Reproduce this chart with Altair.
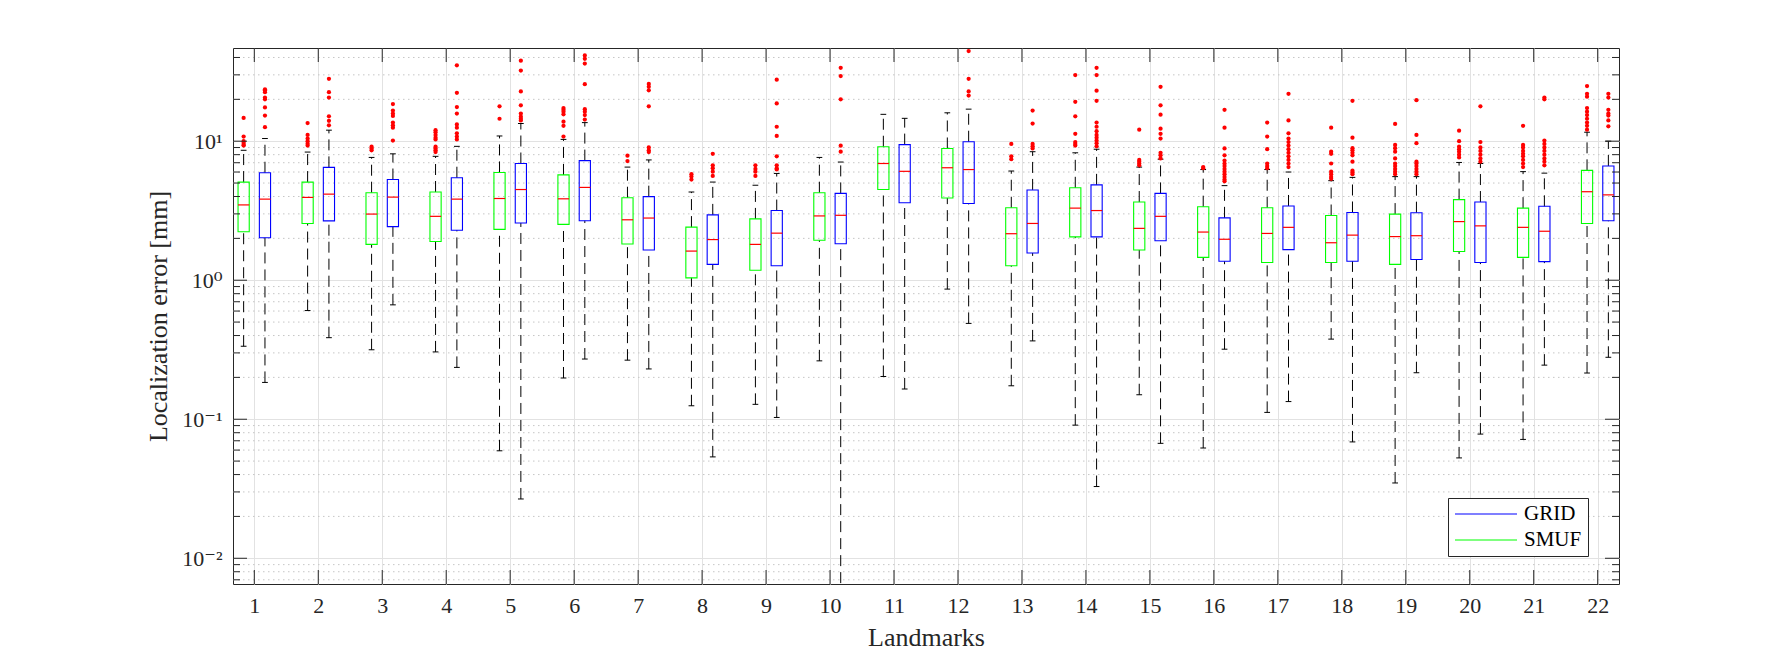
import altair as alt
import pandas as pd

# ---------------- data ----------------
landmarks = list(range(1, 23))

smuf_lo = [0.335, 0.605, 0.316, 0.305, 0.0593, 0.198, 0.266, 0.125, 0.128, 0.263, 0.203,
           0.863, 0.174, 0.0907, 0.150, 0.0621, 0.112, 0.377, 0.0348, 0.0527, 0.0716, 0.215]
smuf_q1 = [2.23, 2.56, 1.81, 1.90, 2.32, 2.52, 1.82, 1.04, 1.18, 1.94, 4.49,
           3.90, 1.27, 2.05, 1.65, 1.46, 1.34, 1.34, 1.30, 1.61, 1.46, 2.56]
smuf_med = [3.48, 3.94, 2.99, 2.88, 3.87, 3.85, 2.72, 1.62, 1.81, 2.90, 6.91,
            6.44, 2.16, 3.30, 2.36, 2.22, 2.17, 1.86, 2.06, 2.64, 2.40, 4.33]
smuf_q3 = [5.08, 5.08, 4.26, 4.31, 5.96, 5.72, 3.92, 2.41, 2.76, 4.26, 9.12,
           8.86, 3.32, 4.62, 3.65, 3.38, 3.32, 2.92, 2.99, 3.80, 3.30, 6.17]
smuf_hi = [8.6, 8.35, 7.64, 7.78, 10.9, 10.3, 6.51, 4.31, 4.82, 7.64, 15.6,
           16.0, 6.10, 8.25, 6.51, 6.25, 6.25, 5.20, 5.56, 7.03, 6.04, 11.6]
smuf_out = [
    [14.7, 10.8, 10.0, 9.7, 9.4, 9.3],
    [13.5, 11.1, 10.45, 10.0, 9.6, 9.3],
    [9.12, 8.86, 8.6],
    [12.0, 11.6, 11.1, 10.6, 10.3, 9.12, 8.86, 8.6, 8.35],
    [17.8, 14.5],
    [17.3, 16.8, 16.3, 15.6, 13.8, 12.9, 10.8],
    [7.87, 7.2],
    [5.79, 5.56, 5.30],
    [6.71, 6.32, 6.04, 5.62],
    [],
    [],
    [],
    [9.56, 7.78, 7.42],
    [29.9, 19.2, 15.1, 11.3, 9.85, 9.56, 9.3],
    [12.1, 7.33, 7.12, 6.91, 6.71],
    [6.51, 6.40],
    [13.6, 10.8, 8.75, 6.91, 6.63, 6.40],
    [12.5, 8.40, 8.11, 6.91, 6.04, 5.79, 5.53, 5.36],
    [13.3, 9.4, 8.91, 8.4, 7.51, 6.91, 6.63, 6.32, 6.04, 5.79],
    [11.9, 10.0, 9.12, 8.75, 8.40, 8.0, 7.64],
    [12.9, 9.4, 9.02, 8.5, 8.11, 7.78, 7.33, 6.91, 6.51],
    [24.9, 21.9, 20.9, 17.3, 16.3, 15.4, 14.5, 13.6, 12.9, 12.1],
]

grid_lo = [0.184, 0.386, 0.665, 0.236, 0.0267, 0.271, 0.230, 0.0536, 0.103, 0.005, 0.165,
           0.489, 0.366, 0.0328, 0.0671, 0.319, 0.134, 0.0687, 0.216, 0.0782, 0.245, 0.279]
grid_q1 = [2.02, 2.67, 2.43, 2.29, 2.58, 2.68, 1.65, 1.30, 1.27, 1.83, 3.61,
           3.56, 1.57, 2.05, 1.92, 1.37, 1.66, 1.37, 1.41, 1.34, 1.36, 2.68]
grid_med = [3.83, 4.16, 3.96, 3.83, 4.49, 4.65, 2.80, 1.96, 2.18, 2.93, 6.07,
            6.25, 2.56, 3.17, 2.88, 1.97, 2.40, 2.11, 2.09, 2.46, 2.25, 4.11]
grid_q3 = [5.93, 6.48, 5.30, 5.46, 6.91, 7.25, 3.99, 2.95, 3.17, 4.21, 9.45,
           9.91, 4.46, 4.85, 4.21, 2.81, 3.42, 3.07, 3.06, 3.65, 3.40, 6.63]
grid_hi = [10.45, 12.0, 8.11, 9.18, 13.4, 13.6, 7.33, 5.08, 5.86, 7.08, 14.6,
           17.0, 8.40, 8.75, 7.42, 4.79, 6.0, 5.49, 5.56, 6.91, 5.89, 10.0]
grid_out = [
    [23.6, 23.2, 22.5, 20.6, 20.0, 17.5, 15.3, 12.6],
    [28.1, 22.5, 20.6, 15.1, 14.0, 13.0],
    [18.5, 16.6, 15.8, 15.2, 13.6, 13.0, 12.5, 10.1],
    [35.1, 22.3, 17.6, 15.8, 13.2, 12.5, 11.4, 10.8, 10.3],
    [37.9, 32.2, 22.8, 18.1, 15.8, 15.0, 14.5, 14.1],
    [41.4, 39.1, 36.2, 25.7, 17.0, 16.3, 15.4, 14.3],
    [25.8, 24.6, 23.2, 17.8, 9.02, 8.6, 8.35],
    [8.11, 6.71, 6.40, 6.04, 5.62],
    [27.7, 18.7, 12.7, 10.9, 7.78, 6.71, 6.40, 6.26],
    [33.7, 29.4, 20.0, 9.29, 8.40],
    [],
    [44.5, 28.1, 22.8, 21.3],
    [16.6, 13.4, 9.56, 9.18, 8.86],
    [33.7, 29.9, 23.1, 19.5, 13.6, 12.7, 11.8, 11.1, 10.6, 10.1, 9.68, 9.18],
    [24.6, 18.1, 15.5, 12.3, 11.3, 10.45, 8.25, 7.92, 7.51],
    [16.8, 12.5, 8.86, 7.92, 7.25, 6.91, 6.63, 6.32, 6.04, 5.79, 5.53, 5.30, 5.14],
    [21.9, 14.1, 11.4, 10.45, 9.85, 9.3, 8.75, 8.25, 7.78, 7.33, 6.91, 6.51],
    [19.5, 10.6, 8.91, 8.6, 8.25, 7.92, 7.12, 6.14, 5.96, 5.79],
    [19.7, 11.1, 9.68, 7.12, 6.91, 6.63, 6.32, 6.04, 5.79],
    [17.8, 9.85, 9.02, 8.5, 8.0, 7.51, 7.12],
    [20.6, 20.0, 10.1, 9.56, 9.02, 8.5, 8.0, 7.51, 7.12, 6.71],
    [21.9, 20.6, 16.8, 15.8, 15.3, 14.1, 12.8],
]

major_y = [0.01, 0.1, 1, 10]
minor_y = [0.007, 0.008, 0.009,
           0.02, 0.03, 0.04, 0.05, 0.06, 0.07, 0.08, 0.09,
           0.2, 0.3, 0.4, 0.5, 0.6, 0.7, 0.8, 0.9,
           2, 3, 4, 5, 6, 7, 8, 9,
           20, 30, 40]

# ---------------- layout / style ----------------
W, H = 1386, 536
FONT = "Liberation Serif, DejaVu Serif, serif"
AX = "#262626"
OFFSET = {"SMUF": -1 / 6, "GRID": 1 / 6}
HALF_BOX = 0.0875
HALF_CAP = 0.045

rows, outs = [], []
for name, lo, q1, med, q3, hi, out in [
    ("SMUF", smuf_lo, smuf_q1, smuf_med, smuf_q3, smuf_hi, smuf_out),
    ("GRID", grid_lo, grid_q1, grid_med, grid_q3, grid_hi, grid_out),
]:
    for i, lm in enumerate(landmarks):
        pos = lm + OFFSET[name]
        rows.append(dict(lm=lm, group=name, pos=pos,
                         left=pos - HALF_BOX, right=pos + HALF_BOX,
                         capl=pos - HALF_CAP, capr=pos + HALF_CAP,
                         lo=lo[i], q1=q1[i], med=med[i], q3=q3[i], hi=hi[i]))
        for v in out[i]:
            outs.append(dict(lm=lm, group=name, pos=pos, val=v))

box_df = pd.DataFrame(rows)
out_df = pd.DataFrame(outs)
lm_df = pd.DataFrame({"lm": landmarks})
major_df = pd.DataFrame({"v": major_y})
minor_df = pd.DataFrame({"v": minor_y})

xscale = alt.Scale(domain=[0.667, 22.333], nice=False, zero=False)
yscale = alt.Scale(type="log", domain=[0.00653, 46.8], nice=False)

label_expr = ("datum.value > 5 ? '10¹' : datum.value > 0.5 ? '10⁰' : "
              "datum.value > 0.05 ? '10⁻¹' : '10⁻²'")

y_axis = alt.Axis(values=major_y, grid=True, gridColor="#e2e2e2", gridWidth=1,
                  ticks=False, tickSize=0, domain=False, labelExpr=label_expr,
                  labelFont=FONT, labelFontSize=22, labelColor=AX, labelPadding=11,
                  title="Localization error [mm]", titleFont=FONT, titleFontSize=26,
                  titleFontWeight="normal", titleColor=AX, titlePadding=10)
x_axis = alt.Axis(values=landmarks, grid=True, gridColor="#e2e2e2", gridWidth=1,
                  ticks=False, tickSize=0, domain=False, format="d",
                  labelFont=FONT, labelFontSize=22, labelColor=AX, labelPadding=11,
                  title="Landmarks", titleFont=FONT, titleFontSize=26,
                  titleFontWeight="normal", titleColor=AX, titlePadding=8)

# axis carrier layer (invisible) holding both axes
axes_layer = alt.Chart(box_df).mark_point(opacity=0).encode(
    x=alt.X("pos:Q", scale=xscale, axis=x_axis),
    y=alt.Y("med:Q", scale=yscale, axis=y_axis),
)

minor_grid = alt.Chart(minor_df).mark_rule(
    color="#c6c6c6", strokeDash=[1.5, 3.5], strokeWidth=1
).encode(
    y=alt.Y("v:Q", scale=yscale),
    x=alt.value(0), x2=alt.value(W),
)

whisk_lo = alt.Chart(box_df).mark_rule(color="black", strokeDash=[11, 6], strokeWidth=1, clip=True).encode(
    x=alt.X("pos:Q", scale=xscale),
    y=alt.Y("lo:Q", scale=yscale), y2="q1:Q")
whisk_hi = alt.Chart(box_df).mark_rule(color="black", strokeDash=[11, 6], strokeWidth=1, clip=True).encode(
    x=alt.X("pos:Q", scale=xscale),
    y=alt.Y("q3:Q", scale=yscale), y2="hi:Q")
cap_lo = alt.Chart(box_df).mark_rule(color="black", strokeWidth=1, clip=True).encode(
    x=alt.X("capl:Q", scale=xscale), x2="capr:Q",
    y=alt.Y("lo:Q", scale=yscale))
cap_hi = alt.Chart(box_df).mark_rule(color="black", strokeWidth=1, clip=True).encode(
    x=alt.X("capl:Q", scale=xscale), x2="capr:Q",
    y=alt.Y("hi:Q", scale=yscale))

boxes = alt.Chart(box_df).mark_rect(fillOpacity=0, strokeWidth=1.1).encode(
    x=alt.X("left:Q", scale=xscale), x2="right:Q",
    y=alt.Y("q1:Q", scale=yscale), y2="q3:Q",
    stroke=alt.Stroke("group:N",
                      scale=alt.Scale(domain=["GRID", "SMUF"], range=["#0000ff", "#00ff00"]),
                      legend=alt.Legend(title=None, orient="none", legendX=1215, legendY=450,
                                        fillColor="white", strokeColor=AX, padding=6,
                                        symbolType="stroke", symbolSize=3844,
                                        symbolStrokeWidth=1.2, clipHeight=20, rowPadding=5,
                                        labelFont=FONT, labelFontSize=21, labelColor="black",
                                        labelOffset=6)),
)

medians = alt.Chart(box_df).mark_rule(color="#ff0000", strokeWidth=1.2).encode(
    x=alt.X("left:Q", scale=xscale), x2="right:Q",
    y=alt.Y("med:Q", scale=yscale))

outliers = alt.Chart(out_df).mark_circle(color="#ff0000", size=18, opacity=1, clip=True).encode(
    x=alt.X("pos:Q", scale=xscale),
    y=alt.Y("val:Q", scale=yscale))

# inward ticks on all four sides (MATLAB box style)
tick_bottom = alt.Chart(lm_df).mark_rule(color=AX).encode(
    x=alt.X("lm:Q", scale=xscale), y=alt.value(H), y2=alt.value(H - 14))
tick_top = alt.Chart(lm_df).mark_rule(color=AX).encode(
    x=alt.X("lm:Q", scale=xscale), y=alt.value(0), y2=alt.value(14))
ymaj_l = alt.Chart(major_df).mark_rule(color=AX).encode(
    y=alt.Y("v:Q", scale=yscale), x=alt.value(0), x2=alt.value(14))
ymaj_r = alt.Chart(major_df).mark_rule(color=AX).encode(
    y=alt.Y("v:Q", scale=yscale), x=alt.value(W), x2=alt.value(W - 14))
ymin_l = alt.Chart(minor_df).mark_rule(color=AX).encode(
    y=alt.Y("v:Q", scale=yscale), x=alt.value(0), x2=alt.value(7))
ymin_r = alt.Chart(minor_df).mark_rule(color=AX).encode(
    y=alt.Y("v:Q", scale=yscale), x=alt.value(W), x2=alt.value(W - 7))

chart = alt.layer(
    axes_layer, minor_grid, whisk_lo, whisk_hi, cap_lo, cap_hi, boxes, medians, outliers,
    tick_bottom, tick_top, ymaj_l, ymaj_r, ymin_l, ymin_r,
).properties(
    width=W, height=H,
    autosize=alt.AutoSizeParams(type="none"),
    padding={"left": 233, "top": 48, "right": 171, "bottom": 73},
    background="white",
).configure_view(stroke=AX, strokeWidth=1)

chart.save("out.html", embed_options={"renderer": "svg", "actions": False})
